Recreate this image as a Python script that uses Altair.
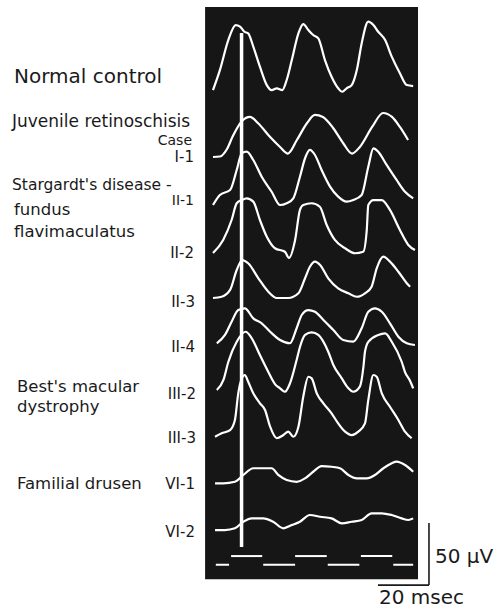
import altair as alt
import pandas as pd

# ---------------- data (time in msec, amplitude in µV) ----------------
trace_ids = ["Normal control", "I-1", "II-1", "II-2", "II-3", "II-4",
             "III-2", "III-3", "VI-1", "VI-2"]
trace_offsets = [-72.6, -126.6, -165.3, -204.0, -240.3, -277.4,
                 -314.5, -352.4, -389.5, -427.4]

t_nc = [0, 2.7, 6.0, 8.9, 10.6, 12.3, 13.8, 15.8, 18.4, 21.1, 23.0, 25.0, 27.2, 28.9,
        30.9, 33.5, 35.4, 37.4, 39.3, 41.3, 43.9, 46.5, 49.1, 50.7, 52.4, 54.4, 56.4,
        58.3, 60.9, 62.9, 64.8, 67.5, 70.1, 73.3, 76.0, 78.5]
v_nc = [0, 16.1, 40.3, 52.4, 51.1, 47.0, 45.7, 35.0, 18.8, 4.0, 0, 1.4, 0, 8.1,
        24.2, 45.7, 53.2, 48.4, 44.4, 41.7, 24.2, 10.7, 1.4, -1.4, 1.4, 4.0, 16.1,
        37.6, 55.1, 52.4, 47.0, 40.3, 26.9, 13.5, 4.0, 3.2]

t_i1 = [0, 2.7, 5.5, 7.8, 11.4, 14.5, 17.6, 22.4, 26.3, 29.4, 32.9, 36.9, 40.0, 43.1,
        47.1, 51.0, 54.5, 57.6, 62.4, 66.7, 70.2, 73.3, 76.5]
v_i1 = [0, 0.4, 6.5, 16.9, 29.0, 32.3, 27.4, 16.1, 8.1, 2.8, 13.7, 27.4, 33.9, 32.3,
        23.4, 11.3, 2.8, 8.1, 24.2, 35.5, 32.3, 24.2, 13.7]

t_ii1 = [0, 2.7, 6.7, 9.3, 11.3, 13.2, 15.8, 19.1, 23.0, 26.3, 28.9, 31.5, 34.1, 36.1,
         38.0, 40.0, 42.6, 45.9, 49.1, 52.4, 55.0, 58.3, 60.9, 62.9, 64.8, 68.1, 72.0,
         75.3, 78.5]
v_ii1 = [0, 8.1, 12.1, 28.2, 41.7, 43.0, 36.3, 22.8, 10.7, 0, 1.4, 5.4, 22.8, 37.7,
         44.4, 40.3, 28.2, 14.8, 6.7, 2.7, 4.0, 8.1, 30.9, 45.7, 43.0, 32.3, 20.2,
         10.7, 5.4]

t_ii2 = [0, 4.0, 7.3, 9.3, 11.3, 13.2, 15.8, 18.4, 21.1, 24.3, 28.2, 29.8, 32.2, 34.1,
         35.4, 38.7, 41.9, 44.6, 47.8, 51.8, 55.7, 58.9, 60.3, 60.9, 62.9, 66.2, 69.4,
         73.3, 76.6, 79.2]
v_ii2 = [0, 10.5, 26.6, 40.1, 42.7, 44.1, 41.4, 26.6, 13.1, 3.8, 1.0, -4.0, 10.5, 34.7,
         38.7, 40.1, 37.3, 22.6, 10.5, 3.8, -0.2, 1.0, 18.5, 38.7, 42.7, 42.7, 34.7,
         18.5, 6.5, 2.4]

t_ii3 = [0, 3.4, 6.7, 9.3, 11.5, 13.8, 17.8, 21.7, 25.0, 29.5, 33.5, 36.1, 38.0, 40.0,
         42.0, 45.2, 49.1, 53.1, 56.4, 59.6, 62.2, 64.2, 66.8, 69.4, 72.7, 76.0, 77.3]
v_ii3 = [0, 1.0, 6.5, 22.6, 30.6, 28.0, 15.9, 5.1, 0, 0, 3.8, 15.9, 25.2, 29.3,
         26.6, 15.9, 7.8, 3.8, 1.0, 3.8, 9.1, 23.9, 33.3, 29.3, 21.2, 11.9, 9.1]

t_ii4 = [1.5, 4.7, 7.3, 9.9, 12.5, 15.8, 19.1, 22.4, 26.3, 30.2, 32.8, 34.8, 37.4, 40.0,
         43.3, 47.2, 51.1, 55.0, 58.3, 60.9, 63.5, 66.2, 69.4, 72.7, 76.0, 79.2]
v_ii4 = [0.6, 7.3, 18.0, 27.4, 28.8, 20.7, 16.7, 9.9, 3.2, 0.6, 12.7, 23.4, 27.4, 26.0,
         19.4, 11.3, 3.2, 1.9, 12.7, 26.0, 28.8, 26.0, 16.7, 5.9, 0.6, -0.8]

t_iii2 = [1.5, 4.1, 6.0, 9.3, 12.8, 15.2, 18.4, 21.7, 24.3, 26.3, 28.2, 30.2, 32.8, 34.1,
          36.1, 38.7, 41.3, 45.2, 47.2, 50.5, 53.1, 55.0, 57.6, 59.0, 59.6, 60.9, 64.8,
          67.5, 70.1, 74.0, 75.3, 77.3, 78.5]
v_iii2 = [0, 8.1, 22.6, 38.9, 47.0, 41.7, 28.2, 14.5, 4.8, 1.4, -1.4, 5.4, 24.2, 34.7,
          44.4, 46.5, 44.4, 30.9, 20.2, 9.4, 1.4, -1.4, 2.7, 18.8, 30.9, 38.9, 44.4,
          45.7, 38.9, 22.8, 14.5, 7.3, 1.4]

t_iii3 = [0.8, 3.4, 6.7, 8.6, 9.9, 11.3, 12.5, 13.8, 15.8, 18.4, 20.4, 22.4, 25.0, 27.6,
          29.5, 31.5, 33.5, 35.4, 37.4, 38.7, 40.7, 43.3, 46.5, 49.1, 51.8, 54.4, 57.0,
          59.6, 60.9, 62.9, 64.2, 66.2, 69.4, 72.7, 75.3, 77.9]
v_iii3 = [0.2, 3.0, 5.6, 13.7, 35.2, 47.3, 50.0, 44.6, 35.2, 27.2, 21.8, 8.3, -1.0, 1.6,
          4.3, 0.2, 8.3, 32.5, 48.6, 47.3, 35.2, 27.2, 19.1, 11.0, 4.3, 1.6, 4.3,
          11.0, 29.8, 50.0, 48.6, 35.2, 24.4, 13.7, 4.3, -1.0]

t_vi1 = [0.8, 4.0, 8.6, 11.9, 15.8, 19.7, 23.0, 25.6, 28.9, 32.8, 36.1, 39.3, 42.6, 46.5,
         49.8, 53.1, 56.4, 60.3, 63.5, 66.8, 70.1, 72.0, 75.3, 78.5]
v_vi1 = [-0.2, -0.2, 1.0, 6.5, 11.9, 11.9, 11.9, 6.5, 2.4, 1.0, 3.8, 9.1, 13.7, 13.1,
         11.9, 6.5, 3.8, 3.8, 6.5, 11.9, 15.9, 17.2, 14.5, 9.1]

t_vi2 = [0.8, 4.7, 8.6, 11.9, 15.2, 19.7, 23.6, 27.6, 30.9, 34.1, 38.0, 42.0, 46.5, 50.5,
         54.4, 58.3, 62.2, 66.2, 70.1, 74.0, 76.6, 78.5]
v_vi2 = [0, 0, 1.4, 6.7, 9.4, 9.4, 6.7, 1.4, 4.0, 6.7, 12.1, 10.7, 9.4, 5.4,
         6.7, 8.1, 13.5, 13.5, 12.1, 9.4, 8.1, 9.4]

trace_times = [t_nc, t_i1, t_ii1, t_ii2, t_ii3, t_ii4, t_iii2, t_iii3, t_vi1, t_vi2]
trace_values = [v_nc, v_i1, v_ii1, v_ii2, v_ii3, v_ii4, v_iii2, v_iii3, v_vi1, v_vi2]

# stimulus marker (msec)
stim_on_1 = [7.1, 32.2, 58.0]
stim_off_1 = [19.3, 44.6, 70.3]
stim_on_2 = [1.1, 19.7, 45.0, 70.7]
stim_off_2 = [6.3, 32.2, 57.4, 78.5]
marker_time = 11.2

# calibration
cal_ms = 20
cal_uv = 50

# ---------------- layout ----------------
W, H = 503, 612
X_DOMAIN = [-83.53, 113.73]
Y_DOMAIN = [-493.5, 0.0]
xs = alt.Scale(domain=X_DOMAIN, nice=False, zero=False)
ys = alt.Scale(domain=Y_DOMAIN, nice=False, zero=False)
FONT = "DejaVu Sans"
INK = "#1a1a1a"

rows = []
for tid, off, ts, vs in zip(trace_ids, trace_offsets, trace_times, trace_values):
    for t, v in zip(ts, vs):
        rows.append({"trace": tid, "t": t, "y": v + off})
df = pd.DataFrame(rows)

panel = alt.Chart(pd.DataFrame({"x0": [-3.1], "x1": [80.4], "y0": [-5.6], "y1": [-467.0]})
                  ).mark_rect(color="#161616").encode(
    x=alt.X("x0:Q", scale=xs, axis=None), x2="x1:Q",
    y=alt.Y("y0:Q", scale=ys, axis=None), y2="y1:Q")

marker = alt.Chart(pd.DataFrame({"t": [marker_time], "y0": [-26.6], "y1": [-441.0]})
                   ).mark_rule(color="white", strokeWidth=3.5).encode(
    x=alt.X("t:Q", scale=xs, axis=None),
    y=alt.Y("y0:Q", scale=ys, axis=None), y2="y1:Q")

lines = alt.Chart(df).mark_line(color="white", strokeWidth=2.2,
                                interpolate="monotone", strokeJoin="round").encode(
    x=alt.X("t:Q", scale=xs, axis=None),
    y=alt.Y("y:Q", scale=ys, axis=None),
    detail="trace:N", order="t:Q")

stim_df = pd.DataFrame({
    "t0": stim_on_1 + stim_on_2,
    "t1": stim_off_1 + stim_off_2,
    "y": [-448.4] * len(stim_on_1) + [-455.4] * len(stim_on_2)})
stim = alt.Chart(stim_df).mark_rule(color="white", strokeWidth=2).encode(
    x=alt.X("t0:Q", scale=xs, axis=None), x2="t1:Q",
    y=alt.Y("y:Q", scale=ys, axis=None))

cal_x = 84.7
cal_y = -471.8
calv = alt.Chart(pd.DataFrame({"t": [cal_x], "y0": [cal_y], "y1": [cal_y + cal_uv]})
                 ).mark_rule(color=INK, strokeWidth=1.6).encode(
    x=alt.X("t:Q", scale=xs, axis=None),
    y=alt.Y("y0:Q", scale=ys, axis=None), y2="y1:Q")
calh = alt.Chart(pd.DataFrame({"t0": [cal_x - cal_ms], "t1": [cal_x], "y": [cal_y]})
                 ).mark_rule(color=INK, strokeWidth=1.6).encode(
    x=alt.X("t0:Q", scale=xs, axis=None), x2="t1:Q",
    y=alt.Y("y:Q", scale=ys, axis=None))

# text annotations (pixel placement)
left_txt = pd.DataFrame({
    "text": ["Normal control", "Juvenile retinoschisis", "Stargardt's disease -",
             "fundus", "flavimaculatus", "Best's macular", "dystrophy",
             "Familial drusen", "50 µV", "20 msec"],
    "px": [14, 12, 12, 14, 14, 17, 17, 17, 435, 379],
    "py": [77, 122, 185, 210, 232, 387, 407, 484, 557, 598],
    "fs": [20, 17, 15.5, 16.5, 16.5, 16.5, 16.5, 16.5, 20, 20]})
right_txt = pd.DataFrame({
    "text": ["Case", "I-1", "II-1", "II-2", "II-3", "II-4", "III-2", "III-3",
             "VI-1", "VI-2"],
    "px": [192, 194, 194, 194, 195, 195, 196, 196, 195, 195],
    "py": [141, 157, 201, 253, 302, 347, 394, 438, 484, 532],
    "fs": [14, 15, 14, 15, 15, 15, 15, 15, 15, 15]})

tl = alt.Chart(left_txt).mark_text(align="left", baseline="middle", font=FONT,
                                   color=INK).encode(
    x=alt.X("px:Q", scale=None), y=alt.Y("py:Q", scale=None),
    text="text:N", size=alt.Size("fs:Q", scale=None, legend=None))
tr = alt.Chart(right_txt).mark_text(align="right", baseline="middle", font=FONT,
                                    color=INK).encode(
    x=alt.X("px:Q", scale=None), y=alt.Y("py:Q", scale=None),
    text="text:N", size=alt.Size("fs:Q", scale=None, legend=None))

chart = alt.layer(panel, marker, lines, stim, calv, calh, tl, tr).properties(
    width=W, height=H, padding=0, background="white",
    autosize=alt.AutoSizeParams(type="none"),
).configure_view(stroke=None)

chart.save("out.html", embed_options={"renderer": "svg", "actions": False})
